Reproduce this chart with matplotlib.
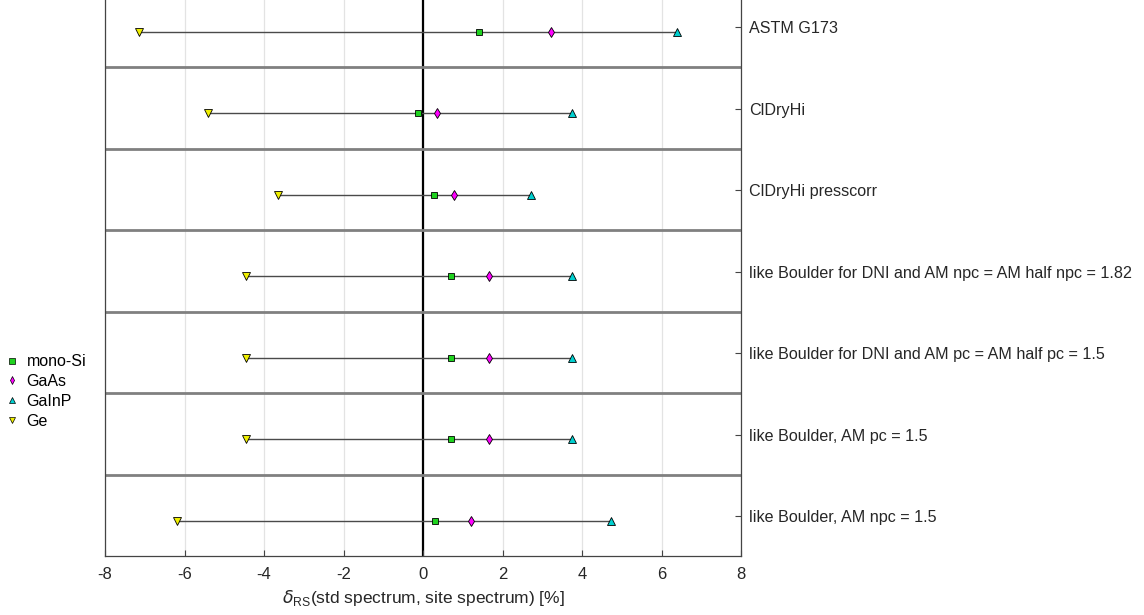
import matplotlib
matplotlib.use("Agg")
import matplotlib.pyplot as plt
from matplotlib.lines import Line2D

plt.rcParams['font.family'] = ['Liberation Sans', 'DejaVu Sans']

spectra = [
    "ASTM G173",
    "ClDryHi",
    "ClDryHi presscorr",
    "like Boulder for DNI and AM npc = AM half npc = 1.82",
    "like Boulder for DNI and AM pc = AM half pc = 1.5",
    "like Boulder, AM pc = 1.5",
    "like Boulder, AM npc = 1.5",
]
mono_si = [1.42, -0.12, 0.27, 0.71, 0.71, 0.71, 0.30]
gaas    = [3.22, 0.34, 0.77, 1.65, 1.65, 1.65, 1.20]
gainp   = [6.39, 3.76, 2.72, 3.76, 3.76, 3.76, 4.74]
ge      = [-7.15, -5.42, -3.66, -4.46, -4.46, -4.46, -6.18]

series_names = ["mono-Si", "GaAs", "GaInP", "Ge"]
series_vals = [mono_si, gaas, gainp, ge]
series_markers = ["s", "d", "^", "v"]
series_colors = ["#1fd21f", "#ff00ff", "#00d0d0", "#f0f000"]
series_sizes = [4.8, 5.2, 6, 6]

W, H = 1144, 615
fig = plt.figure(figsize=(W / 100, H / 100), dpi=100)
top_px = -14.5
bot_px = 556
ax = fig.add_axes([105 / W, (H - bot_px) / H, (741 - 105) / W, (bot_px - top_px) / H])

n = len(spectra)
ax.set_xlim(-8, 8)
ax.set_ylim(n - 1 + 0.43, -0.57)

# grid
for xv in range(-8, 9, 2):
    ax.axvline(xv, color="#e3e3e3", lw=0.9, zorder=0)
ax.axvline(0, color="black", lw=1.6, zorder=1)

# separators
for i in range(n - 1):
    ax.axhline(i + 0.43, color="#808080", lw=2.0, zorder=1)

# range lines
for i in range(n):
    vals = [s[i] for s in series_vals]
    ax.plot([min(vals), max(vals)], [i, i], color="#4a4a4a", lw=1.0, zorder=2)

handles = []
for name, vals, m, c, ms in zip(series_names, series_vals, series_markers, series_colors, series_sizes):
    ax.plot(vals, list(range(n)), linestyle="none", marker=m, markersize=ms,
            markerfacecolor=c, markeredgecolor="black", markeredgewidth=0.6, zorder=3)
    handles.append(Line2D([], [], linestyle="none", marker=m, markersize=ms - 1,
                          markerfacecolor=c, markeredgecolor="black", markeredgewidth=0.5, label=name))

ax.set_xticks(range(-8, 9, 2))
ax.set_xticklabels([str(v) for v in range(-8, 9, 2)], fontsize=12, color="#262626")
ax.tick_params(axis="x", direction="in", length=4, color="#444444", pad=8)

ax.yaxis.tick_right()
ax.set_yticks([i - 0.06 for i in range(n)])
ax.set_yticklabels(spectra, fontsize=11.6, color="#262626")
ax.tick_params(axis="y", direction="in", length=4, color="#444444", pad=6)

ax.spines["top"].set_visible(False)
for sp in ["left", "right", "bottom"]:
    ax.spines[sp].set_color("#444444")
    ax.spines[sp].set_linewidth(0.9)

ax.set_xlabel(r"$\delta_{\mathregular{RS}}$(std spectrum, site spectrum) [%]", fontsize=12.5, color="#262626", labelpad=4)

fig.legend(handles=handles, loc="upper left", bbox_to_anchor=(-0.006, (H - 343) / H),
           frameon=False, fontsize=11.5, handletextpad=0.4, labelspacing=0.3,
           handlelength=1.0, borderaxespad=0.3)

fig.savefig("out.png", dpi=100)
